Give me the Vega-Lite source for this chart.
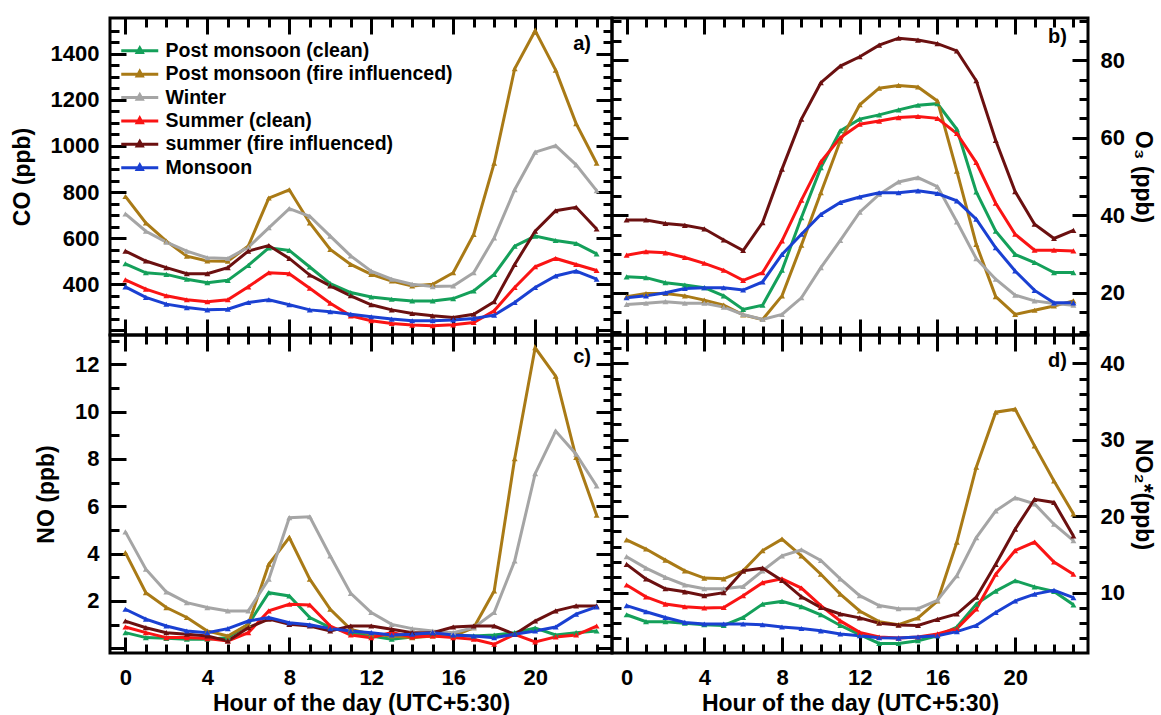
{
  "$schema": "https://vega.github.io/schema/vega-lite/v6.json",
  "background": "white",
  "padding": {"left": 9, "top": 8, "right": 6, "bottom": 0},
  "datasets": {
    "co": [
      {"h": 0, "Post monsoon (clean)": 489, "Post monsoon (fire influenced)": 781, "Winter": 705, "Summer (clean)": 419, "summer (fire influenced)": 544, "Monsoon": 389},
      {"h": 1, "Post monsoon (clean)": 450, "Post monsoon (fire influenced)": 666, "Winter": 630, "Summer (clean)": 379, "summer (fire influenced)": 501, "Monsoon": 343},
      {"h": 2, "Post monsoon (clean)": 443, "Post monsoon (fire influenced)": 587, "Winter": 583, "Summer (clean)": 350, "summer (fire influenced)": 472, "Monsoon": 314},
      {"h": 3, "Post monsoon (clean)": 422, "Post monsoon (fire influenced)": 522, "Winter": 544, "Summer (clean)": 333, "summer (fire influenced)": 446, "Monsoon": 299},
      {"h": 4, "Post monsoon (clean)": 407, "Post monsoon (fire influenced)": 501, "Winter": 515, "Summer (clean)": 324, "summer (fire influenced)": 446, "Monsoon": 289},
      {"h": 5, "Post monsoon (clean)": 417, "Post monsoon (fire influenced)": 500, "Winter": 512, "Summer (clean)": 333, "summer (fire influenced)": 472, "Monsoon": 292},
      {"h": 6, "Post monsoon (clean)": 482, "Post monsoon (fire influenced)": 566, "Winter": 560, "Summer (clean)": 389, "summer (fire influenced)": 544, "Monsoon": 321},
      {"h": 7, "Post monsoon (clean)": 558, "Post monsoon (fire influenced)": 774, "Winter": 645, "Summer (clean)": 450, "summer (fire influenced)": 568, "Monsoon": 333},
      {"h": 8, "Post monsoon (clean)": 547, "Post monsoon (fire influenced)": 810, "Winter": 728, "Summer (clean)": 446, "summer (fire influenced)": 512, "Monsoon": 311},
      {"h": 9, "Post monsoon (clean)": 475, "Post monsoon (fire influenced)": 666, "Winter": 695, "Summer (clean)": 383, "summer (fire influenced)": 440, "Monsoon": 289},
      {"h": 10, "Post monsoon (clean)": 403, "Post monsoon (fire influenced)": 551, "Winter": 609, "Summer (clean)": 318, "summer (fire influenced)": 393, "Monsoon": 281},
      {"h": 11, "Post monsoon (clean)": 364, "Post monsoon (fire influenced)": 486, "Winter": 523, "Summer (clean)": 263, "summer (fire influenced)": 350, "Monsoon": 270},
      {"h": 12, "Post monsoon (clean)": 345, "Post monsoon (fire influenced)": 443, "Winter": 457, "Summer (clean)": 242, "summer (fire influenced)": 311, "Monsoon": 259},
      {"h": 13, "Post monsoon (clean)": 335, "Post monsoon (fire influenced)": 414, "Winter": 422, "Summer (clean)": 230, "summer (fire influenced)": 289, "Monsoon": 249},
      {"h": 14, "Post monsoon (clean)": 328, "Post monsoon (fire influenced)": 393, "Winter": 400, "Summer (clean)": 223, "summer (fire influenced)": 273, "Monsoon": 242},
      {"h": 15, "Post monsoon (clean)": 328, "Post monsoon (fire influenced)": 400, "Winter": 390, "Summer (clean)": 220, "summer (fire influenced)": 263, "Monsoon": 242},
      {"h": 16, "Post monsoon (clean)": 338, "Post monsoon (fire influenced)": 450, "Winter": 393, "Summer (clean)": 224, "summer (fire influenced)": 256, "Monsoon": 245},
      {"h": 17, "Post monsoon (clean)": 371, "Post monsoon (fire influenced)": 616, "Winter": 450, "Summer (clean)": 234, "summer (fire influenced)": 270, "Monsoon": 252},
      {"h": 18, "Post monsoon (clean)": 443, "Post monsoon (fire influenced)": 925, "Winter": 601, "Summer (clean)": 285, "summer (fire influenced)": 324, "Monsoon": 266},
      {"h": 19, "Post monsoon (clean)": 565, "Post monsoon (fire influenced)": 1335, "Winter": 810, "Summer (clean)": 386, "summer (fire influenced)": 486, "Monsoon": 321},
      {"h": 20, "Post monsoon (clean)": 609, "Post monsoon (fire influenced)": 1500, "Winter": 973, "Summer (clean)": 476, "summer (fire influenced)": 630, "Monsoon": 386},
      {"h": 21, "Post monsoon (clean)": 590, "Post monsoon (fire influenced)": 1329, "Winter": 1001, "Summer (clean)": 512, "summer (fire influenced)": 719, "Monsoon": 436},
      {"h": 22, "Post monsoon (clean)": 577, "Post monsoon (fire influenced)": 1097, "Winter": 918, "Summer (clean)": 486, "summer (fire influenced)": 734, "Monsoon": 457},
      {"h": 23, "Post monsoon (clean)": 532, "Post monsoon (fire influenced)": 925, "Winter": 806, "Summer (clean)": 460, "summer (fire influenced)": 640, "Monsoon": 422}
    ],
    "o3": [
      {"h": 0, "Post monsoon (clean)": 24.1, "Post monsoon (fire influenced)": 19.0, "Winter": 17.0, "Summer (clean)": 29.7, "summer (fire influenced)": 38.8, "Monsoon": 18.7},
      {"h": 1, "Post monsoon (clean)": 23.9, "Post monsoon (fire influenced)": 19.8, "Winter": 17.3, "Summer (clean)": 30.6, "summer (fire influenced)": 38.8, "Monsoon": 19.2},
      {"h": 2, "Post monsoon (clean)": 22.6, "Post monsoon (fire influenced)": 19.8, "Winter": 17.7, "Summer (clean)": 30.3, "summer (fire influenced)": 37.9, "Monsoon": 20.0},
      {"h": 3, "Post monsoon (clean)": 22.0, "Post monsoon (fire influenced)": 19.2, "Winter": 17.3, "Summer (clean)": 29.1, "summer (fire influenced)": 37.4, "Monsoon": 21.1},
      {"h": 4, "Post monsoon (clean)": 21.3, "Post monsoon (fire influenced)": 18.1, "Winter": 17.3, "Summer (clean)": 27.6, "summer (fire influenced)": 36.5, "Monsoon": 21.3},
      {"h": 5, "Post monsoon (clean)": 19.2, "Post monsoon (fire influenced)": 16.8, "Winter": 16.3, "Summer (clean)": 25.8, "summer (fire influenced)": 33.6, "Monsoon": 21.3},
      {"h": 6, "Post monsoon (clean)": 15.7, "Post monsoon (fire influenced)": 14.3, "Winter": 14.4, "Summer (clean)": 23.2, "summer (fire influenced)": 30.9, "Monsoon": 20.7},
      {"h": 7, "Post monsoon (clean)": 16.8, "Post monsoon (fire influenced)": 13.1, "Winter": 13.1, "Summer (clean)": 25.2, "summer (fire influenced)": 38.1, "Monsoon": 22.8},
      {"h": 8, "Post monsoon (clean)": 25.8, "Post monsoon (fire influenced)": 19.2, "Winter": 14.4, "Summer (clean)": 33.4, "summer (fire influenced)": 51.9, "Monsoon": 29.9},
      {"h": 9, "Post monsoon (clean)": 39.4, "Post monsoon (fire influenced)": 32.3, "Winter": 18.7, "Summer (clean)": 43.9, "summer (fire influenced)": 64.8, "Monsoon": 35.1},
      {"h": 10, "Post monsoon (clean)": 52.3, "Post monsoon (fire influenced)": 45.8, "Winter": 26.5, "Summer (clean)": 53.8, "summer (fire influenced)": 74.2, "Monsoon": 40.2},
      {"h": 11, "Post monsoon (clean)": 61.8, "Post monsoon (fire influenced)": 59.2, "Winter": 33.5, "Summer (clean)": 60.0, "summer (fire influenced)": 78.5, "Monsoon": 43.3},
      {"h": 12, "Post monsoon (clean)": 64.8, "Post monsoon (fire influenced)": 68.5, "Winter": 40.8, "Summer (clean)": 63.5, "summer (fire influenced)": 80.9, "Monsoon": 44.7},
      {"h": 13, "Post monsoon (clean)": 65.9, "Post monsoon (fire influenced)": 72.8, "Winter": 45.4, "Summer (clean)": 64.3, "summer (fire influenced)": 83.9, "Monsoon": 45.8},
      {"h": 14, "Post monsoon (clean)": 67.2, "Post monsoon (fire influenced)": 73.5, "Winter": 48.6, "Summer (clean)": 65.2, "summer (fire influenced)": 85.7, "Monsoon": 45.8},
      {"h": 15, "Post monsoon (clean)": 68.4, "Post monsoon (fire influenced)": 73.1, "Winter": 49.7, "Summer (clean)": 65.5, "summer (fire influenced)": 85.2, "Monsoon": 46.3},
      {"h": 16, "Post monsoon (clean)": 68.8, "Post monsoon (fire influenced)": 69.5, "Winter": 47.4, "Summer (clean)": 65.0, "summer (fire influenced)": 84.3, "Monsoon": 45.6},
      {"h": 17, "Post monsoon (clean)": 62.2, "Post monsoon (fire influenced)": 51.4, "Winter": 38.3, "Summer (clean)": 61.1, "summer (fire influenced)": 82.4, "Monsoon": 43.7},
      {"h": 18, "Post monsoon (clean)": 46.0, "Post monsoon (fire influenced)": 32.5, "Winter": 28.8, "Summer (clean)": 53.6, "summer (fire influenced)": 74.7, "Monsoon": 39.0},
      {"h": 19, "Post monsoon (clean)": 35.9, "Post monsoon (fire influenced)": 19.0, "Winter": 23.5, "Summer (clean)": 43.1, "summer (fire influenced)": 59.3, "Monsoon": 31.6},
      {"h": 20, "Post monsoon (clean)": 29.9, "Post monsoon (fire influenced)": 14.4, "Winter": 19.4, "Summer (clean)": 35.1, "summer (fire influenced)": 46.1, "Monsoon": 25.6},
      {"h": 21, "Post monsoon (clean)": 27.8, "Post monsoon (fire influenced)": 15.5, "Winter": 17.9, "Summer (clean)": 31.0, "summer (fire influenced)": 37.7, "Monsoon": 20.6},
      {"h": 22, "Post monsoon (clean)": 25.2, "Post monsoon (fire influenced)": 16.6, "Winter": 17.2, "Summer (clean)": 31.0, "summer (fire influenced)": 34.0, "Monsoon": 17.4},
      {"h": 23, "Post monsoon (clean)": 25.2, "Post monsoon (fire influenced)": 17.9, "Winter": 16.8, "Summer (clean)": 30.8, "summer (fire influenced)": 36.1, "Monsoon": 17.4}
    ],
    "no": [
      {"h": 0, "Post monsoon (clean)": 0.66, "Post monsoon (fire influenced)": 4.04, "Winter": 4.92, "Summer (clean)": 0.90, "summer (fire influenced)": 1.15, "Monsoon": 1.65},
      {"h": 1, "Post monsoon (clean)": 0.45, "Post monsoon (fire influenced)": 2.35, "Winter": 3.34, "Summer (clean)": 0.66, "summer (fire influenced)": 0.87, "Monsoon": 1.23},
      {"h": 2, "Post monsoon (clean)": 0.42, "Post monsoon (fire influenced)": 1.72, "Winter": 2.38, "Summer (clean)": 0.45, "summer (fire influenced)": 0.66, "Monsoon": 0.94},
      {"h": 3, "Post monsoon (clean)": 0.38, "Post monsoon (fire influenced)": 1.30, "Winter": 1.93, "Summer (clean)": 0.45, "summer (fire influenced)": 0.59, "Monsoon": 0.73},
      {"h": 4, "Post monsoon (clean)": 0.38, "Post monsoon (fire influenced)": 0.73, "Winter": 1.72, "Summer (clean)": 0.41, "summer (fire influenced)": 0.52, "Monsoon": 0.66},
      {"h": 5, "Post monsoon (clean)": 0.45, "Post monsoon (fire influenced)": 0.52, "Winter": 1.58, "Summer (clean)": 0.31, "summer (fire influenced)": 0.31, "Monsoon": 0.83},
      {"h": 6, "Post monsoon (clean)": 1.01, "Post monsoon (fire influenced)": 1.01, "Winter": 1.58, "Summer (clean)": 0.66, "summer (fire influenced)": 0.87, "Monsoon": 1.15},
      {"h": 7, "Post monsoon (clean)": 2.35, "Post monsoon (fire influenced)": 3.55, "Winter": 2.92, "Summer (clean)": 1.58, "summer (fire influenced)": 1.23, "Monsoon": 1.30},
      {"h": 8, "Post monsoon (clean)": 2.21, "Post monsoon (fire influenced)": 4.68, "Winter": 5.52, "Summer (clean)": 1.86, "summer (fire influenced)": 1.01, "Monsoon": 1.08},
      {"h": 9, "Post monsoon (clean)": 1.30, "Post monsoon (fire influenced)": 2.92, "Winter": 5.56, "Summer (clean)": 1.83, "summer (fire influenced)": 0.94, "Monsoon": 0.99},
      {"h": 10, "Post monsoon (clean)": 0.87, "Post monsoon (fire influenced)": 1.65, "Winter": 3.90, "Summer (clean)": 0.94, "summer (fire influenced)": 0.73, "Monsoon": 0.83},
      {"h": 11, "Post monsoon (clean)": 0.66, "Post monsoon (fire influenced)": 0.80, "Winter": 2.32, "Summer (clean)": 0.56, "summer (fire influenced)": 0.94, "Monsoon": 0.73},
      {"h": 12, "Post monsoon (clean)": 0.52, "Post monsoon (fire influenced)": 0.59, "Winter": 1.51, "Summer (clean)": 0.45, "summer (fire influenced)": 0.94, "Monsoon": 0.66},
      {"h": 13, "Post monsoon (clean)": 0.38, "Post monsoon (fire influenced)": 0.52, "Winter": 1.01, "Summer (clean)": 0.66, "summer (fire influenced)": 0.80, "Monsoon": 0.56},
      {"h": 14, "Post monsoon (clean)": 0.48, "Post monsoon (fire influenced)": 0.45, "Winter": 0.83, "Summer (clean)": 0.48, "summer (fire influenced)": 0.66, "Monsoon": 0.59},
      {"h": 15, "Post monsoon (clean)": 0.59, "Post monsoon (fire influenced)": 0.52, "Winter": 0.73, "Summer (clean)": 0.52, "summer (fire influenced)": 0.66, "Monsoon": 0.66},
      {"h": 16, "Post monsoon (clean)": 0.56, "Post monsoon (fire influenced)": 0.52, "Winter": 0.66, "Summer (clean)": 0.45, "summer (fire influenced)": 0.90, "Monsoon": 0.56},
      {"h": 17, "Post monsoon (clean)": 0.52, "Post monsoon (fire influenced)": 0.87, "Winter": 0.87, "Summer (clean)": 0.38, "summer (fire influenced)": 0.94, "Monsoon": 0.52},
      {"h": 18, "Post monsoon (clean)": 0.56, "Post monsoon (fire influenced)": 2.42, "Winter": 1.51, "Summer (clean)": 0.17, "summer (fire influenced)": 0.94, "Monsoon": 0.45},
      {"h": 19, "Post monsoon (clean)": 0.66, "Post monsoon (fire influenced)": 8.01, "Winter": 3.69, "Summer (clean)": 0.59, "summer (fire influenced)": 0.59, "Monsoon": 0.59},
      {"h": 20, "Post monsoon (clean)": 0.85, "Post monsoon (fire influenced)": 12.7, "Winter": 7.38, "Summer (clean)": 0.27, "summer (fire influenced)": 1.15, "Monsoon": 0.73},
      {"h": 21, "Post monsoon (clean)": 0.56, "Post monsoon (fire influenced)": 11.5, "Winter": 9.18, "Summer (clean)": 0.48, "summer (fire influenced)": 1.58, "Monsoon": 0.90},
      {"h": 22, "Post monsoon (clean)": 0.66, "Post monsoon (fire influenced)": 8.06, "Winter": 8.20, "Summer (clean)": 0.56, "summer (fire influenced)": 1.79, "Monsoon": 1.44},
      {"h": 23, "Post monsoon (clean)": 0.73, "Post monsoon (fire influenced)": 5.62, "Winter": 6.86, "Summer (clean)": 0.94, "summer (fire influenced)": 1.79, "Monsoon": 1.75}
    ],
    "no2": [
      {"h": 0, "Post monsoon (clean)": 7.1, "Post monsoon (fire influenced)": 16.9, "Winter": 14.7, "Summer (clean)": 11.0, "summer (fire influenced)": 13.7, "Monsoon": 8.3},
      {"h": 1, "Post monsoon (clean)": 6.2, "Post monsoon (fire influenced)": 15.7, "Winter": 13.2, "Summer (clean)": 9.45, "summer (fire influenced)": 11.8, "Monsoon": 7.5},
      {"h": 2, "Post monsoon (clean)": 6.2, "Post monsoon (fire influenced)": 14.25, "Winter": 12.0, "Summer (clean)": 8.5, "summer (fire influenced)": 10.5, "Monsoon": 6.75},
      {"h": 3, "Post monsoon (clean)": 6.0, "Post monsoon (fire influenced)": 12.85, "Winter": 11.0, "Summer (clean)": 8.15, "summer (fire influenced)": 10.1, "Monsoon": 6.1},
      {"h": 4, "Post monsoon (clean)": 5.8, "Post monsoon (fire influenced)": 11.9, "Winter": 10.5, "Summer (clean)": 8.0, "summer (fire influenced)": 9.6, "Monsoon": 5.9},
      {"h": 5, "Post monsoon (clean)": 5.7, "Post monsoon (fire influenced)": 11.8, "Winter": 10.5, "Summer (clean)": 8.05, "summer (fire influenced)": 10.0, "Monsoon": 5.9},
      {"h": 6, "Post monsoon (clean)": 6.75, "Post monsoon (fire influenced)": 12.85, "Winter": 10.8, "Summer (clean)": 9.6, "summer (fire influenced)": 12.85, "Monsoon": 5.9},
      {"h": 7, "Post monsoon (clean)": 8.5, "Post monsoon (fire influenced)": 15.5, "Winter": 12.85, "Summer (clean)": 11.3, "summer (fire influenced)": 13.2, "Monsoon": 5.8},
      {"h": 8, "Post monsoon (clean)": 8.85, "Post monsoon (fire influenced)": 17.0, "Winter": 14.8, "Summer (clean)": 11.8, "summer (fire influenced)": 11.6, "Monsoon": 5.5},
      {"h": 9, "Post monsoon (clean)": 8.15, "Post monsoon (fire influenced)": 14.8, "Winter": 15.6, "Summer (clean)": 10.6, "summer (fire influenced)": 9.45, "Monsoon": 5.3},
      {"h": 10, "Post monsoon (clean)": 7.1, "Post monsoon (fire influenced)": 12.4, "Winter": 14.2, "Summer (clean)": 8.3, "summer (fire influenced)": 8.05, "Monsoon": 5.0},
      {"h": 11, "Post monsoon (clean)": 5.7, "Post monsoon (fire influenced)": 9.8, "Winter": 11.8, "Summer (clean)": 6.3, "summer (fire influenced)": 7.2, "Monsoon": 4.6},
      {"h": 12, "Post monsoon (clean)": 4.5, "Post monsoon (fire influenced)": 7.6, "Winter": 9.6, "Summer (clean)": 4.8, "summer (fire influenced)": 6.7, "Monsoon": 4.35},
      {"h": 13, "Post monsoon (clean)": 3.35, "Post monsoon (fire influenced)": 6.2, "Winter": 8.3, "Summer (clean)": 4.2, "summer (fire influenced)": 6.0, "Monsoon": 4.1},
      {"h": 14, "Post monsoon (clean)": 3.35, "Post monsoon (fire influenced)": 5.8, "Winter": 7.9, "Summer (clean)": 4.05, "summer (fire influenced)": 5.75, "Monsoon": 4.05},
      {"h": 15, "Post monsoon (clean)": 3.7, "Post monsoon (fire influenced)": 6.7, "Winter": 7.9, "Summer (clean)": 4.2, "summer (fire influenced)": 5.7, "Monsoon": 4.2},
      {"h": 16, "Post monsoon (clean)": 4.35, "Post monsoon (fire influenced)": 8.9, "Winter": 9.0, "Summer (clean)": 4.6, "summer (fire influenced)": 6.5, "Monsoon": 4.35},
      {"h": 17, "Post monsoon (clean)": 5.5, "Post monsoon (fire influenced)": 16.6, "Winter": 12.2, "Summer (clean)": 5.3, "summer (fire influenced)": 7.2, "Monsoon": 4.9},
      {"h": 18, "Post monsoon (clean)": 8.5, "Post monsoon (fire influenced)": 26.4, "Winter": 17.2, "Summer (clean)": 7.85, "summer (fire influenced)": 9.4, "Monsoon": 5.7},
      {"h": 19, "Post monsoon (clean)": 10.2, "Post monsoon (fire influenced)": 33.6, "Winter": 20.7, "Summer (clean)": 12.4, "summer (fire influenced)": 13.7, "Monsoon": 7.4},
      {"h": 20, "Post monsoon (clean)": 11.55, "Post monsoon (fire influenced)": 34.0, "Winter": 22.4, "Summer (clean)": 15.5, "summer (fire influenced)": 18.3, "Monsoon": 8.9},
      {"h": 21, "Post monsoon (clean)": 10.75, "Post monsoon (fire influenced)": 29.2, "Winter": 21.6, "Summer (clean)": 16.6, "summer (fire influenced)": 22.2, "Monsoon": 9.8},
      {"h": 22, "Post monsoon (clean)": 10.15, "Post monsoon (fire influenced)": 24.6, "Winter": 18.95, "Summer (clean)": 14.0, "summer (fire influenced)": 21.8, "Monsoon": 10.3},
      {"h": 23, "Post monsoon (clean)": 8.4, "Post monsoon (fire influenced)": 20.3, "Winter": 16.8, "Summer (clean)": 12.4, "summer (fire influenced)": 17.4, "Monsoon": 9.35}
    ]
  },
  "columns": 2,
  "spacing": 0,
  "bounds": "flush",
  "align": "each",
  "resolve": {"legend": {"color": "independent"}},
  "concat": [
    {
      "width": 502,
      "height": 317,
      "title": {"text": "a)"},
      "data": {"name": "co"},
      "transform": [{"fold": ["Post monsoon (clean)", "Post monsoon (fire influenced)", "Winter", "Summer (clean)", "summer (fire influenced)", "Monsoon"], "as": ["series", "value"]}],
      "encoding": {
        "color": {
          "field": "series", "type": "nominal",
          "scale": {"domain": ["Post monsoon (clean)", "Post monsoon (fire influenced)", "Winter", "Summer (clean)", "summer (fire influenced)", "Monsoon"], "range": ["#14a05a", "#a97a16", "#a5a5a5", "#fa1414", "#6b1010", "#1a40d2"]},
          "legend": {
            "orient": "none", "legendX": 20, "legendY": 23, "title": null, "padding": 0,
            "symbolType": "M-3.7,0H3.7M0,-0.55L0.5,0.35H-0.5Z",
            "symbolSize": 100, "symbolStrokeWidth": 3,
            "labelFont": "Liberation Sans", "labelFontSize": 19.5, "labelFontWeight": "bold", "labelColor": "#000",
            "labelOffset": 16, "rowPadding": 2.4, "labelLimit": 400,
            "encode": {"symbols": {"update": {"fill": {"scale": "color", "field": "value"}, "stroke": {"scale": "color", "field": "value"}, "opacity": {"value": 1}}}}
          }
        }
      },
      "layer": [
        {
          "mark": {"type": "line", "strokeWidth": 3},
          "encoding": {
            "x": {"field": "h", "type": "quantitative", "scale": {"domain": [-0.75, 23.75], "nice": false, "zero": false},
              "axis": {"orient": "bottom", "values": [0,1,2,3,4,5,6,7,8,9,10,11,12,13,14,15,16,17,18,19,20,21,22,23], "labels": false, "title": null,
                "tickSize": {"condition": {"test": "datum.value % 4 === 0", "value": -16}, "value": -9}}},
            "y": {"field": "value", "type": "quantitative", "scale": {"domain": [180, 1555], "nice": false, "zero": false},
              "axis": {"orient": "left", "title": "CO (ppb)", "format": "d", "labelPadding": 27, "titlePadding": 16,
                "values": [200,250,300,350,400,450,500,550,600,650,700,750,800,850,900,950,1000,1050,1100,1150,1200,1250,1300,1350,1400,1450,1500],
                "labelExpr": "datum.value % 200 === 0 && datum.value >= 400 ? datum.label : ''",
                "tickSize": {"condition": {"test": "datum.value % 200 === 0", "value": -16}, "value": -9}}}
          }
        },
        {
          "mark": {"type": "point", "shape": "triangle-up", "filled": true, "size": 35, "opacity": 1},
          "encoding": {
            "x": {"field": "h", "type": "quantitative", "scale": {"domain": [-0.75, 23.75], "nice": false, "zero": false},
              "axis": {"orient": "top", "values": [0,1,2,3,4,5,6,7,8,9,10,11,12,13,14,15,16,17,18,19,20,21,22,23], "labels": false, "title": null,
                "tickSize": {"condition": {"test": "datum.value % 4 === 0", "value": -16}, "value": -9}}},
            "y": {"field": "value", "type": "quantitative", "scale": {"domain": [180, 1555], "nice": false, "zero": false},
              "axis": {"orient": "right", "labels": false, "title": null,
                "values": [200,250,300,350,400,450,500,550,600,650,700,750,800,850,900,950,1000,1050,1100,1150,1200,1250,1300,1350,1400,1450,1500],
                "tickSize": {"condition": {"test": "datum.value % 200 === 0", "value": -16}, "value": -9}}}
          }
        }
      ],
      "resolve": {"axis": {"x": "independent", "y": "independent"}}
    },
    {
      "width": 476,
      "height": 317,
      "title": {"text": "b)"},
      "data": {"name": "o3"},
      "transform": [{"fold": ["Post monsoon (clean)", "Post monsoon (fire influenced)", "Winter", "Summer (clean)", "summer (fire influenced)", "Monsoon"], "as": ["series", "value"]}],
      "encoding": {
        "color": {
          "field": "series", "type": "nominal",
          "scale": {"domain": ["Post monsoon (clean)", "Post monsoon (fire influenced)", "Winter", "Summer (clean)", "summer (fire influenced)", "Monsoon"], "range": ["#14a05a", "#a97a16", "#a5a5a5", "#fa1414", "#6b1010", "#1a40d2"]},
          "legend": null
        }
      },
      "layer": [
        {
          "mark": {"type": "line", "strokeWidth": 3},
          "encoding": {
            "x": {"field": "h", "type": "quantitative", "scale": {"domain": [-0.75, 23.75], "nice": false, "zero": false},
              "axis": {"orient": "bottom", "values": [0,1,2,3,4,5,6,7,8,9,10,11,12,13,14,15,16,17,18,19,20,21,22,23], "labels": false, "title": null,
                "tickSize": {"condition": {"test": "datum.value % 4 === 0", "value": -16}, "value": -9}}},
            "y": {"field": "value", "type": "quantitative", "scale": {"domain": [9.1, 90.9], "nice": false, "zero": false},
              "axis": {"orient": "right", "title": "O₃ (ppb)", "format": "d", "labelPadding": 28, "titlePadding": 6,
                "values": [10,15,20,25,30,35,40,45,50,55,60,65,70,75,80,85,90],
                "labelExpr": "datum.value % 20 === 0 ? datum.label : ''",
                "tickSize": {"condition": {"test": "datum.value % 20 === 0", "value": -16}, "value": -9}}}
          }
        },
        {
          "mark": {"type": "point", "shape": "triangle-up", "filled": true, "size": 35, "opacity": 1},
          "encoding": {
            "x": {"field": "h", "type": "quantitative", "scale": {"domain": [-0.75, 23.75], "nice": false, "zero": false},
              "axis": {"orient": "top", "values": [0,1,2,3,4,5,6,7,8,9,10,11,12,13,14,15,16,17,18,19,20,21,22,23], "labels": false, "title": null,
                "tickSize": {"condition": {"test": "datum.value % 4 === 0", "value": -16}, "value": -9}}},
            "y": {"field": "value", "type": "quantitative", "scale": {"domain": [9.1, 90.9], "nice": false, "zero": false},
              "axis": {"orient": "left", "labels": false, "title": null,
                "values": [10,15,20,25,30,35,40,45,50,55,60,65,70,75,80,85,90],
                "tickSize": {"condition": {"test": "datum.value % 20 === 0", "value": -16}, "value": -9}}}
          }
        }
      ],
      "resolve": {"axis": {"x": "independent", "y": "independent"}}
    },
    {
      "width": 502,
      "height": 318,
      "title": {"text": "c)"},
      "data": {"name": "no"},
      "transform": [{"fold": ["Post monsoon (clean)", "Post monsoon (fire influenced)", "Winter", "Summer (clean)", "summer (fire influenced)", "Monsoon"], "as": ["series", "value"]}],
      "encoding": {
        "color": {
          "field": "series", "type": "nominal",
          "scale": {"domain": ["Post monsoon (clean)", "Post monsoon (fire influenced)", "Winter", "Summer (clean)", "summer (fire influenced)", "Monsoon"], "range": ["#14a05a", "#a97a16", "#a5a5a5", "#fa1414", "#6b1010", "#1a40d2"]},
          "legend": null
        }
      },
      "layer": [
        {
          "mark": {"type": "line", "strokeWidth": 3},
          "encoding": {
            "x": {"field": "h", "type": "quantitative", "scale": {"domain": [-0.75, 23.75], "nice": false, "zero": false},
              "axis": {"orient": "bottom", "values": [0,1,2,3,4,5,6,7,8,9,10,11,12,13,14,15,16,17,18,19,20,21,22,23], "title": "Hour of the day (UTC+5:30)",
                "format": "d", "labelPadding": 30, "titlePadding": -3,
                "labelExpr": "datum.value % 4 === 0 ? datum.label : ''",
                "tickSize": {"condition": {"test": "datum.value % 4 === 0", "value": -16}, "value": -9}}},
            "y": {"field": "value", "type": "quantitative", "scale": {"domain": [-0.2, 13.24], "nice": false, "zero": false},
              "axis": {"orient": "left", "title": "NO (ppb)", "format": "d", "labelPadding": 27, "titlePadding": 16,
                "values": [0,0.5,1,1.5,2,2.5,3,3.5,4,4.5,5,5.5,6,6.5,7,7.5,8,8.5,9,9.5,10,10.5,11,11.5,12,12.5,13],
                "labelExpr": "datum.value % 2 === 0 && datum.value > 0 ? datum.label : ''",
                "tickSize": {"condition": {"test": "datum.value % 2 === 0", "value": -16}, "value": -9}}}
          }
        },
        {
          "mark": {"type": "point", "shape": "triangle-up", "filled": true, "size": 35, "opacity": 1},
          "encoding": {
            "x": {"field": "h", "type": "quantitative", "scale": {"domain": [-0.75, 23.75], "nice": false, "zero": false},
              "axis": {"orient": "top", "values": [0,1,2,3,4,5,6,7,8,9,10,11,12,13,14,15,16,17,18,19,20,21,22,23], "labels": false, "title": null,
                "tickSize": {"condition": {"test": "datum.value % 4 === 0", "value": -16}, "value": -9}}},
            "y": {"field": "value", "type": "quantitative", "scale": {"domain": [-0.2, 13.24], "nice": false, "zero": false},
              "axis": {"orient": "right", "labels": false, "title": null,
                "values": [0,0.5,1,1.5,2,2.5,3,3.5,4,4.5,5,5.5,6,6.5,7,7.5,8,8.5,9,9.5,10,10.5,11,11.5,12,12.5,13],
                "tickSize": {"condition": {"test": "datum.value % 2 === 0", "value": -16}, "value": -9}}}
          }
        }
      ],
      "resolve": {"axis": {"x": "independent", "y": "independent"}}
    },
    {
      "width": 476,
      "height": 318,
      "title": {"text": "d)"},
      "data": {"name": "no2"},
      "transform": [{"fold": ["Post monsoon (clean)", "Post monsoon (fire influenced)", "Winter", "Summer (clean)", "summer (fire influenced)", "Monsoon"], "as": ["series", "value"]}],
      "encoding": {
        "color": {
          "field": "series", "type": "nominal",
          "scale": {"domain": ["Post monsoon (clean)", "Post monsoon (fire influenced)", "Winter", "Summer (clean)", "summer (fire influenced)", "Monsoon"], "range": ["#14a05a", "#a97a16", "#a5a5a5", "#fa1414", "#6b1010", "#1a40d2"]},
          "legend": null
        }
      },
      "layer": [
        {
          "mark": {"type": "line", "strokeWidth": 3},
          "encoding": {
            "x": {"field": "h", "type": "quantitative", "scale": {"domain": [-0.75, 23.75], "nice": false, "zero": false},
              "axis": {"orient": "bottom", "values": [0,1,2,3,4,5,6,7,8,9,10,11,12,13,14,15,16,17,18,19,20,21,22,23], "title": "Hour of the day (UTC+5:30)",
                "format": "d", "labelPadding": 30, "titlePadding": -3,
                "labelExpr": "datum.value % 4 === 0 ? datum.label : ''",
                "tickSize": {"condition": {"test": "datum.value % 4 === 0", "value": -16}, "value": -9}}},
            "y": {"field": "value", "type": "quantitative", "scale": {"domain": [2.1, 43.7], "nice": false, "zero": false},
              "axis": {"orient": "right", "title": "NO₂*(ppb)", "format": "d", "labelPadding": 28, "titlePadding": 6,
                "values": [4,6,8,10,12,14,16,18,20,22,24,26,28,30,32,34,36,38,40,42],
                "labelExpr": "datum.value % 10 === 0 ? datum.label : ''",
                "tickSize": {"condition": {"test": "datum.value % 10 === 0", "value": -16}, "value": -9}}}
          }
        },
        {
          "mark": {"type": "point", "shape": "triangle-up", "filled": true, "size": 35, "opacity": 1},
          "encoding": {
            "x": {"field": "h", "type": "quantitative", "scale": {"domain": [-0.75, 23.75], "nice": false, "zero": false},
              "axis": {"orient": "top", "values": [0,1,2,3,4,5,6,7,8,9,10,11,12,13,14,15,16,17,18,19,20,21,22,23], "labels": false, "title": null,
                "tickSize": {"condition": {"test": "datum.value % 4 === 0", "value": -16}, "value": -9}}},
            "y": {"field": "value", "type": "quantitative", "scale": {"domain": [2.1, 43.7], "nice": false, "zero": false},
              "axis": {"orient": "left", "labels": false, "title": null,
                "values": [4,6,8,10,12,14,16,18,20,22,24,26,28,30,32,34,36,38,40,42],
                "tickSize": {"condition": {"test": "datum.value % 10 === 0", "value": -16}, "value": -9}}}
          }
        }
      ],
      "resolve": {"axis": {"x": "independent", "y": "independent"}}
    }
  ],
  "config": {
    "font": "Liberation Sans",
    "view": {"stroke": "#000", "strokeWidth": 3},
    "axis": {
      "domain": false, "grid": false, "ticks": true, "tickColor": "#000", "tickWidth": 3,
      "labelFont": "Liberation Sans", "labelFontSize": 22, "labelFontWeight": "bold", "labelColor": "#000",
      "titleFont": "Liberation Sans", "titleFontSize": 23, "titleFontWeight": "bold", "titleColor": "#000",
      "labelOverlap": false, "labelFlush": false
    },
    "title": {"font": "Liberation Sans", "fontSize": 20, "fontWeight": "bold", "color": "#000", "anchor": "end", "frame": "group", "orient": "top", "offset": -37, "dx": -21}
  }
}
